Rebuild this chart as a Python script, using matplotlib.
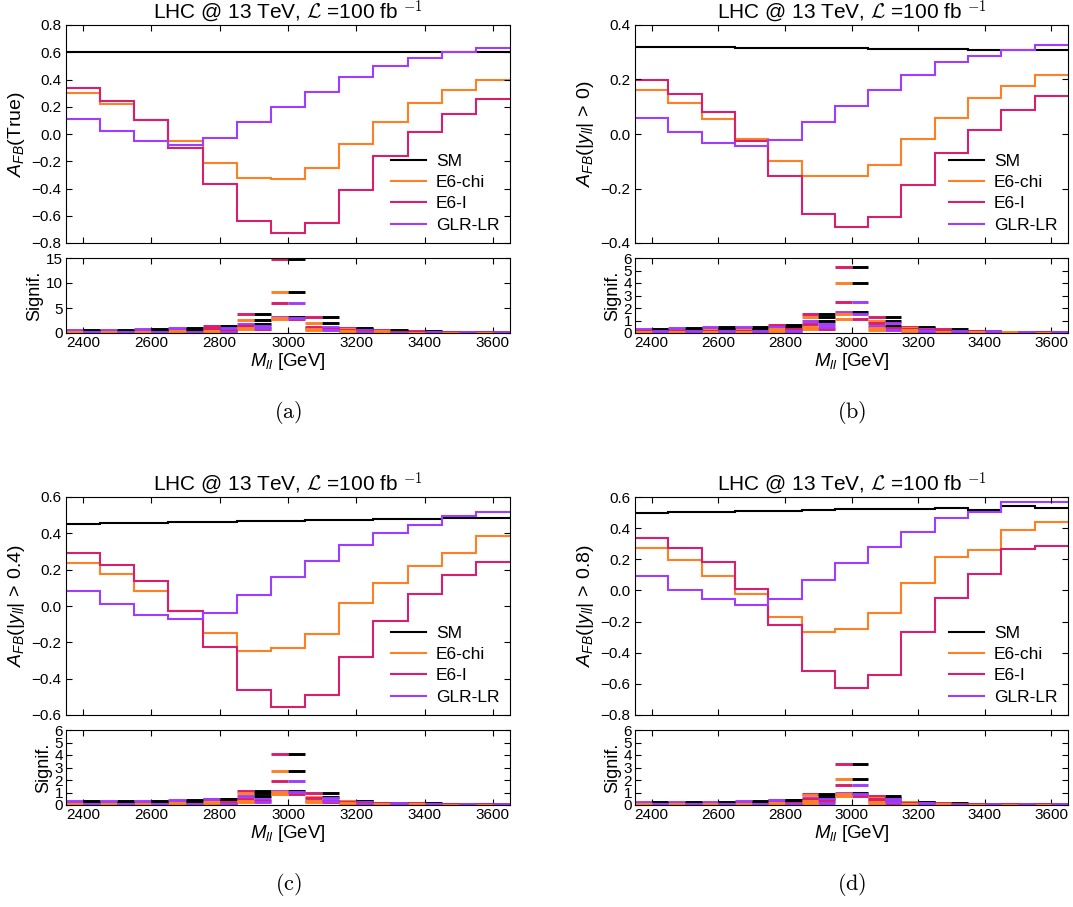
import matplotlib
matplotlib.use("Agg")
import matplotlib.pyplot as plt
import numpy as np

plt.rcParams['font.family'] = ['Liberation Sans', 'DejaVu Sans']
plt.rcParams['mathtext.fontset'] = 'custom'
plt.rcParams['mathtext.rm'] = 'Liberation Sans'
plt.rcParams['mathtext.it'] = 'Liberation Sans:italic'
plt.rcParams['mathtext.bf'] = 'Liberation Sans:bold'

# bin centres [GeV]
mass = [2400, 2500, 2600, 2700, 2800, 2900, 3000, 3100, 3200, 3300, 3400, 3500, 3600]
models = ['SM', 'E6-chi', 'E6-I', 'GLR-LR']
colors = {'SM': 'black', 'E6-chi': '#ff7f24', 'E6-I': '#d91e6b', 'GLR-LR': '#a03cff'}

# A_FB(True)
a_sm = [0.600, 0.600, 0.600, 0.600, 0.600, 0.601, 0.601, 0.601, 0.601, 0.601, 0.602, 0.602, 0.602]
a_chi = [0.30, 0.22, 0.10, -0.05, -0.21, -0.32, -0.33, -0.25, -0.07, 0.09, 0.23, 0.32, 0.40]
a_e6i = [0.34, 0.24, 0.10, -0.10, -0.37, -0.64, -0.73, -0.65, -0.41, -0.16, 0.015, 0.15, 0.26]
a_glr = [0.11, 0.02, -0.05, -0.08, -0.03, 0.09, 0.20, 0.31, 0.42, 0.50, 0.56, 0.60, 0.63]

# A_FB(|y_ll| > 0)
b_sm = [0.320, 0.319, 0.318, 0.317, 0.316, 0.315, 0.315, 0.313, 0.312, 0.311, 0.309, 0.310, 0.310]
b_chi = [0.160, 0.115, 0.055, -0.020, -0.100, -0.155, -0.153, -0.112, -0.020, 0.060, 0.132, 0.175, 0.218]
b_e6i = [0.197, 0.147, 0.080, -0.025, -0.155, -0.295, -0.340, -0.305, -0.187, -0.068, 0.016, 0.087, 0.138]
b_glr = [0.057, 0.008, -0.033, -0.045, -0.022, 0.043, 0.102, 0.160, 0.215, 0.265, 0.287, 0.310, 0.325]

# A_FB(|y_ll| > 0.4)
c_sm = [0.452, 0.455, 0.458, 0.461, 0.464, 0.467, 0.470, 0.473, 0.476, 0.478, 0.480, 0.483, 0.486]
c_chi = [0.235, 0.178, 0.082, -0.025, -0.150, -0.245, -0.232, -0.155, 0.015, 0.125, 0.220, 0.293, 0.385]
c_e6i = [0.290, 0.228, 0.140, -0.025, -0.225, -0.465, -0.555, -0.492, -0.283, -0.080, 0.068, 0.172, 0.240]
c_glr = [0.085, 0.010, -0.050, -0.072, -0.040, 0.062, 0.158, 0.247, 0.336, 0.403, 0.446, 0.497, 0.515]

# A_FB(|y_ll| > 0.8)
d_sm = [0.500, 0.503, 0.506, 0.510, 0.513, 0.517, 0.520, 0.523, 0.526, 0.530, 0.517, 0.545, 0.530]
d_chi = [0.270, 0.197, 0.095, -0.025, -0.170, -0.270, -0.245, -0.145, 0.048, 0.215, 0.262, 0.385, 0.442]
d_e6i = [0.335, 0.270, 0.180, 0.012, -0.220, -0.515, -0.625, -0.545, -0.265, -0.050, 0.108, 0.265, 0.288]
d_glr = [0.093, 0.000, -0.058, -0.093, -0.058, 0.065, 0.178, 0.278, 0.375, 0.468, 0.503, 0.565, 0.570]

# significance between model pairs (left colour | right colour)
pairs = [('E6-I', 'SM'), ('E6-chi', 'SM'), ('GLR-LR', 'SM'),
         ('E6-I', 'GLR-LR'), ('E6-chi', 'E6-I'), ('E6-chi', 'GLR-LR')]
sig_a = [
    [0.35, 0.45, 0.50, 0.80, 1.40, 3.90, 14.8, 3.30, 1.10, 0.60, 0.40, 0.30, 0.20],
    [0.50, 0.50, 0.50, 0.70, 0.80, 2.70, 8.30, 2.00, 0.80, 0.40, 0.25, 0.20, 0.12],
    [0.65, 0.70, 0.85, 1.00, 0.60, 1.80, 3.20, 1.00, 0.30, 0.20, 0.15, 0.10, 0.08],
    [0.25, 0.30, 0.30, 0.10, 1.00, 1.40, 6.10, 1.20, 0.70, 0.30, 0.25, 0.20, 0.15],
    [0.05, 0.05, 0.05, 0.10, 0.50, 0.90, 2.80, 0.80, 0.40, 0.20, 0.10, 0.08, 0.05],
    [0.20, 0.25, 0.30, 0.20, 0.30, 1.00, 3.00, 0.60, 0.20, 0.10, 0.10, 0.08, 0.05],
]
sig_b = [
    [0.20, 0.25, 0.25, 0.35, 0.65, 1.50, 5.30, 1.30, 0.50, 0.30, 0.20, 0.12, 0.08],
    [0.25, 0.28, 0.30, 0.30, 0.30, 1.30, 4.00, 1.00, 0.40, 0.20, 0.12, 0.08, 0.05],
    [0.35, 0.40, 0.45, 0.50, 0.45, 0.95, 1.70, 0.55, 0.15, 0.05, 0.03, 0.02, 0.02],
    [0.15, 0.15, 0.15, 0.15, 0.20, 0.70, 2.50, 0.80, 0.35, 0.20, 0.15, 0.10, 0.06],
    [0.05, 0.05, 0.05, 0.05, 0.35, 0.35, 1.10, 0.40, 0.25, 0.10, 0.08, 0.05, 0.03],
    [0.12, 0.12, 0.12, 0.12, 0.15, 0.50, 1.50, 0.25, 0.20, 0.10, 0.08, 0.05, 0.03],
]
sig_c = [
    [0.20, 0.20, 0.20, 0.30, 0.50, 1.10, 4.10, 0.95, 0.35, 0.20, 0.15, 0.10, 0.08],
    [0.20, 0.20, 0.20, 0.25, 0.20, 1.00, 2.75, 0.65, 0.30, 0.15, 0.10, 0.06, 0.05],
    [0.30, 0.30, 0.30, 0.40, 0.45, 0.75, 1.15, 0.35, 0.10, 0.05, 0.03, 0.02, 0.02],
    [0.10, 0.10, 0.10, 0.10, 0.15, 0.50, 1.95, 0.60, 0.25, 0.15, 0.10, 0.08, 0.06],
    [0.03, 0.03, 0.03, 0.05, 0.25, 0.30, 0.90, 0.25, 0.15, 0.08, 0.05, 0.04, 0.03],
    [0.08, 0.08, 0.08, 0.10, 0.10, 0.25, 1.05, 0.30, 0.10, 0.05, 0.05, 0.03, 0.02],
]
sig_d = [
    [0.20, 0.20, 0.20, 0.25, 0.40, 0.90, 3.30, 0.75, 0.25, 0.15, 0.10, 0.08, 0.06],
    [0.20, 0.20, 0.20, 0.20, 0.15, 0.80, 2.10, 0.55, 0.25, 0.12, 0.08, 0.05, 0.04],
    [0.25, 0.25, 0.25, 0.35, 0.40, 0.60, 0.95, 0.30, 0.08, 0.04, 0.03, 0.02, 0.02],
    [0.10, 0.10, 0.10, 0.10, 0.12, 0.45, 1.60, 0.45, 0.20, 0.12, 0.08, 0.06, 0.05],
    [0.03, 0.03, 0.03, 0.05, 0.20, 0.30, 0.75, 0.20, 0.12, 0.06, 0.04, 0.03, 0.02],
    [0.08, 0.08, 0.08, 0.08, 0.08, 0.20, 0.85, 0.25, 0.08, 0.04, 0.04, 0.03, 0.02],
]

panels = [
    dict(vals=[a_sm, a_chi, a_e6i, a_glr], ylim=(-0.8, 0.8), ylabel=r'$A_{FB}$(True)',
         sig=sig_a, sig_max=15, sig_ticks=[0, 5, 10, 15], cap='(a)', row=0, col=0),
    dict(vals=[b_sm, b_chi, b_e6i, b_glr], ylim=(-0.4, 0.4), ylabel=r'$A_{FB}(|y_{ll}|\,>\,0)$',
         sig=sig_b, sig_max=6, sig_ticks=range(7), cap='(b)', row=0, col=1),
    dict(vals=[c_sm, c_chi, c_e6i, c_glr], ylim=(-0.6, 0.6), ylabel=r'$A_{FB}(|y_{ll}|\,>\,0.4)$',
         sig=sig_c, sig_max=6, sig_ticks=range(7), cap='(c)', row=1, col=0),
    dict(vals=[d_sm, d_chi, d_e6i, d_glr], ylim=(-0.8, 0.6), ylabel=r'$A_{FB}(|y_{ll}|\,>\,0.8)$',
         sig=sig_d, sig_max=6, sig_ticks=range(7), cap='(d)', row=1, col=1),
]


def fmt(v, _):
    if abs(v) < 1e-9:
        v = 0.0
    return f'{v:.1f}'.replace('-', '\u2212')


W, H = 1073, 907
fig = plt.figure(figsize=(W / 100, H / 100), dpi=100)

mass = np.array(mass)
edges = np.append(mass - 50, mass[-1] + 50)
xticks = np.arange(2400, 3601, 200)

for p in panels:
    x0 = 66 if p['col'] == 0 else 635
    x1 = 510 if p['col'] == 0 else 1068
    dy = 472 * p['row']
    ax = fig.add_axes([x0 / W, 1 - (243 + dy) / H, (x1 - x0) / W, 218 / H])
    axs = fig.add_axes([x0 / W, 1 - (333 + dy) / H, (x1 - x0) / W, 75 / H])

    for name, v in zip(models, p['vals']):
        ax.stairs(v, edges, color=colors[name], lw=1.5, label=name, baseline=None)
    ax.set_xlim(2350, 3650)
    ax.set_ylim(*p['ylim'])
    lo, hi = p['ylim']
    ax.set_yticks(np.arange(lo, hi + 0.01, 0.2))
    ax.yaxis.set_major_formatter(plt.FuncFormatter(fmt))
    ax.set_xticks(xticks)
    ax.tick_params(direction='in', top=True, right=True, labelbottom=False, labelsize=11, length=4)
    ax.set_ylabel(p['ylabel'], fontsize=14, labelpad=3)
    ax.set_title(r'LHC @ 13 TeV, $\mathcal{L}$ =100 fb $^{-1}$', fontsize=15, pad=3,
                 math_fontfamily='cm')
    ax.legend(loc='lower right', frameon=False, fontsize=12.5, handlelength=2.0,
              labelspacing=0.35, borderaxespad=0.2, handletextpad=0.6)

    for (m1, m2), s in zip(pairs, p['sig']):
        axs.hlines(s, mass - 50, mass, colors=colors[m1], lw=2.1)
        axs.hlines(s, mass, mass + 50, colors=colors[m2], lw=2.1)
    axs.set_xlim(2350, 3650)
    axs.set_ylim(0, p['sig_max'])
    axs.set_yticks(list(p['sig_ticks']))
    axs.set_xticks(xticks)
    axs.tick_params(direction='in', top=True, right=True, labelsize=11, length=4, pad=2)
    axs.set_ylabel('Signif.', fontsize=13, labelpad=2)
    axs.set_xlabel(r'$M_{ll}$ [GeV]', fontsize=13.5, labelpad=1)

    cx = (x0 + x1) / 2 / W
    fig.text(cx, 1 - (412 + dy) / H, r'$\mathrm{(' + p['cap'][1] + r')}$', ha='center', va='center',
             fontsize=16, math_fontfamily='cm')

fig.savefig('out.png', dpi=100)
